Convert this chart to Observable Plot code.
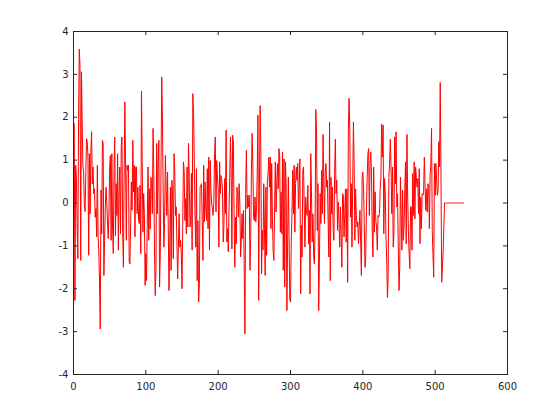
<!DOCTYPE html>
<html><head><meta charset="utf-8">
<script src="https://cdn.jsdelivr.net/npm/d3@7"></script>
<script src="https://cdn.jsdelivr.net/npm/@observablehq/plot@0.6"></script>
<style>body{margin:0;background:#fff}</style>
</head><body><div id="chart"></div>
<script>
// Signal samples (sample index 1..512), then the zero-padded tail
const seg1 = [1.85,-2.27,0.88,0.6,-0.48,-1.3,1.95,3.59,3.19,-1.34,
3.06,1.9,0.84,0.72,-0.05,-0.2,0.69,1.5,1.43,1.07,
-1.22,1.15,-0.25,1.19,1.66,0.45,0.84,0.22,0.33,-0.33,
-0.13,-0.79,0.88,-0.79,-1.14,-1.88,-2.94,0.3,-0.72,1.46,
1.39,-1.69,-0.87,-0.09,0.37,0.02,-0.44,-0.83,-0.25,0.84,
1.11,-0.87,1.15,-0.56,-1.18,0.76,1.54,-0.76,0.45,-0.29,
1.15,-1.1,0.3,0.84,-0.72,1.31,1.54,-0.68,-1.5,0.65,
2.36,0.88,-0.87,0.88,0.76,0.88,-1.38,-1.42,-0.48,0.49,
-0.17,1.46,0.26,0.88,-0.79,0.84,0.84,-0.25,0.37,-0.41];
const seg2 = [-0.48,0.41,-1.18,2.61,0.96,-0.68,0.22,-0.25,-1.92,-1.18,
-1.81,-0.44,0.84,-0.87,0.33,-0.6,0.6,0.45,-0.25,1.74,
0.76,-1.14,-2.16,-1.5,1.39,-0.25,0.96,1.46,-1.96,-1.18,
0.84,2.94,1.89,0.18,-1.03,-0.41,1.11,0.41,-0.29,0.72,
-0.56,-2.04,-1.1,0.37,-1.57,0.53,0.18,-1.3,1.15,0.72,
-0.29,-0.09,-0.95,-1.77,-1.03,-0.25,-1.03,-0.87,-1.14,-2.0,
-0.52,0.96,0.76,-0.41,0.1,-0.72,0.84,-0.56,1.39,0.6,
-0.56,-0.44,0.69,-1.1,2.55,2.09,0.99,-0.25,-1.03,0.8,
-1.81,-0.41,-2.31,-1.88,0.37,0.41,0.45,-0.44,-1.34,0.88,
-0.44,0.49,-0.17,-0.41];
const seg3 = [0.8,-0.6,1.07,-1.1,0.99,0.3,-0.02,-0.13,-0.29,0.02,
1.15,1.54,-0.21,0.99,0.6,0.33,-1.03,0.96,0.22,0.64,
0.53,0.3,-0.91,-0.52,0.57,-0.25,1.7,-0.91,-0.6,-1.14,
-0.17,0.6,1.54,0.68,-1.07,1.58,1.46,-0.25,-1.5,-0.33,
-0.95,0.37,0.18,-0.33,0.45,-0.02,-1.26,-0.87,-0.25,-0.83,
-0.17,-1.5,-3.05,0.22,1.23,-0.13,0.18,-0.09,0.18,-1.57,
-0.83,0.76,1.62,0.84,-0.33,-0.41,0.14,-0.44,-0.17,0.69,
2.05,-2.27,0.3,2.27,1.31,-1.65,-0.64,-1.1,0.45,-0.6,
-1.69,0.37,-1.22,0.49,0.69,1.07,0.37,1.07,-0.6,0.92,
-0.33,-1.1,-1.34,-0.17];
const seg4 = [0.96,-0.21,0.45,0.92,0.33,1.27,1.11,-0.68,0.26,-0.72,
1.19,-1.57,1.03,-1.96,0.96,0.45,-2.51,-0.95,0.6,-0.79,
-2.24,-2.31,-0.95,-0.25,0.76,-0.25,0.88,-0.68,0.45,0.84,
0.53,0.92,-0.13,0.37,1.03,-2.12,-0.52,-1.26,0.76,0.84,
-0.09,-1.03,0.14,-0.17,-0.29,0.41,-0.95,-0.17,-2.12,1.15,
0.26,-0.91,-0.25,-1.22,-1.42,-0.56,2.18,1.68,-0.64,0.45,
-2.51,-1.34,0.22,-0.48,0.76,-0.25,1.6,0.53,-0.48,0.69,
0.92,0.37,0.53,-0.41,-1.26,1.89,-1.81,0.6,-0.25,0.37,
-0.64,-0.87,0.69,1.49,0.22,0.53,-0.64,0.02,-0.41,-1.03,
-0.09,-0.72,-1.5,0.22];
const seg5 = [0.18,-0.79,-0.25,0.33,-0.91,0.33,-1.85,1.71,2.44,1.69,
-0.33,0.45,-1.03,0.45,1.89,0.88,-0.87,0.33,-0.29,-0.56,
-0.44,-0.95,-0.56,-0.17,-0.91,-1.69,0.6,0.72,0.33,-0.48,
-1.5,-1.26,-0.17,0.6,1.15,1.27,-0.29,0.88,1.19,0.65,
-0.68,-1.26,0.84,-0.68,0.26,-0.41,-0.56,-1.1,-0.29,-0.33,
-0.25,0.33,0.6,1.84,1.07,1.82,-0.72,0.57,0.22,-0.79,
-1.34,-2.2,-1.73,0.6,0.92,1.49,0.84,-0.25,0.84,-1.03,
-0.72,1.54,0.45,1.66,-0.09,0.22,-1.03,-2.04,-1.5,0.6,
-0.25,-1.1,0.3,-0.87,-0.56,0.3,0.96,-0.95,1.6,0.14,
-0.64,-1.18,-1.53,-0.09];
const seg6 = [-0.09,-1.1,0.69,-0.29,0.96,-0.37,0.84,0.6,0.37,0.57,
-0.25,0.8,-0.95,0.14,-0.6,0.22,0.18,0.22,1.07,0.45,
-0.17,0.33,-0.21,0.45,0.41,-0.6,0.65,0.92,1.74,-0.64,
-1.22,-1.73,0.92,0.18,0.92,0.53,0.18,0.26,1.43,0.84,
2.81,0.8,-1.85,-1.5,-1.14,-0.56];
const tail = [0,0,0,0,0,0,0,0,0,0,0,0,0,0,0,0,0,0,0,0,0,0,0,0,0,0,0];

const xTicks = [0,100,200,300,400,500,600];
const yTicks = [-4,-3,-2,-1,0,1,2,3,4];

const signal = [...seg1,...seg2,...seg3,...seg4,...seg5,...seg6,...tail];
const data = signal.map((v,i)=>({x:i+1, y:v}));

const W=560, H=420, mL=73, mR=53, mT=31, mB=46;
const innerH = H-mT-mB, innerW = W-mL-mR, tick = 4, axisColor = "#262626";

const chart = Plot.plot({
  width: W, height: H,
  marginLeft: mL, marginRight: mR, marginTop: mT, marginBottom: mB,
  style: {fontFamily: "DejaVu Sans", fontSize: "10px", color: axisColor, background: "#fff"},
  x: {domain: [0,600]},
  y: {domain: [-4,4]},
  marks: [
    Plot.line(data, {x: "x", y: "y", stroke: "#ff0000", strokeWidth: 1}),
    Plot.tickX(xTicks, {x: d=>d, insetTop: innerH-tick, stroke: axisColor}),
    Plot.tickX(xTicks, {x: d=>d, insetBottom: innerH-tick, stroke: axisColor}),
    Plot.tickY(yTicks, {y: d=>d, insetRight: innerW-tick, stroke: axisColor}),
    Plot.tickY(yTicks, {y: d=>d, insetLeft: innerW-tick, stroke: axisColor}),
    Plot.frame({stroke: axisColor}),
    Plot.axisX(xTicks, {anchor: "bottom", tickSize: 0, tickPadding: 8, tickFormat: d=>String(d), label: null}),
    Plot.axisY(yTicks, {anchor: "left", tickSize: 0, tickPadding: 5, tickFormat: d=>String(d), label: null})
  ]
});
document.getElementById("chart").appendChild(chart);
</script>
</body></html>
